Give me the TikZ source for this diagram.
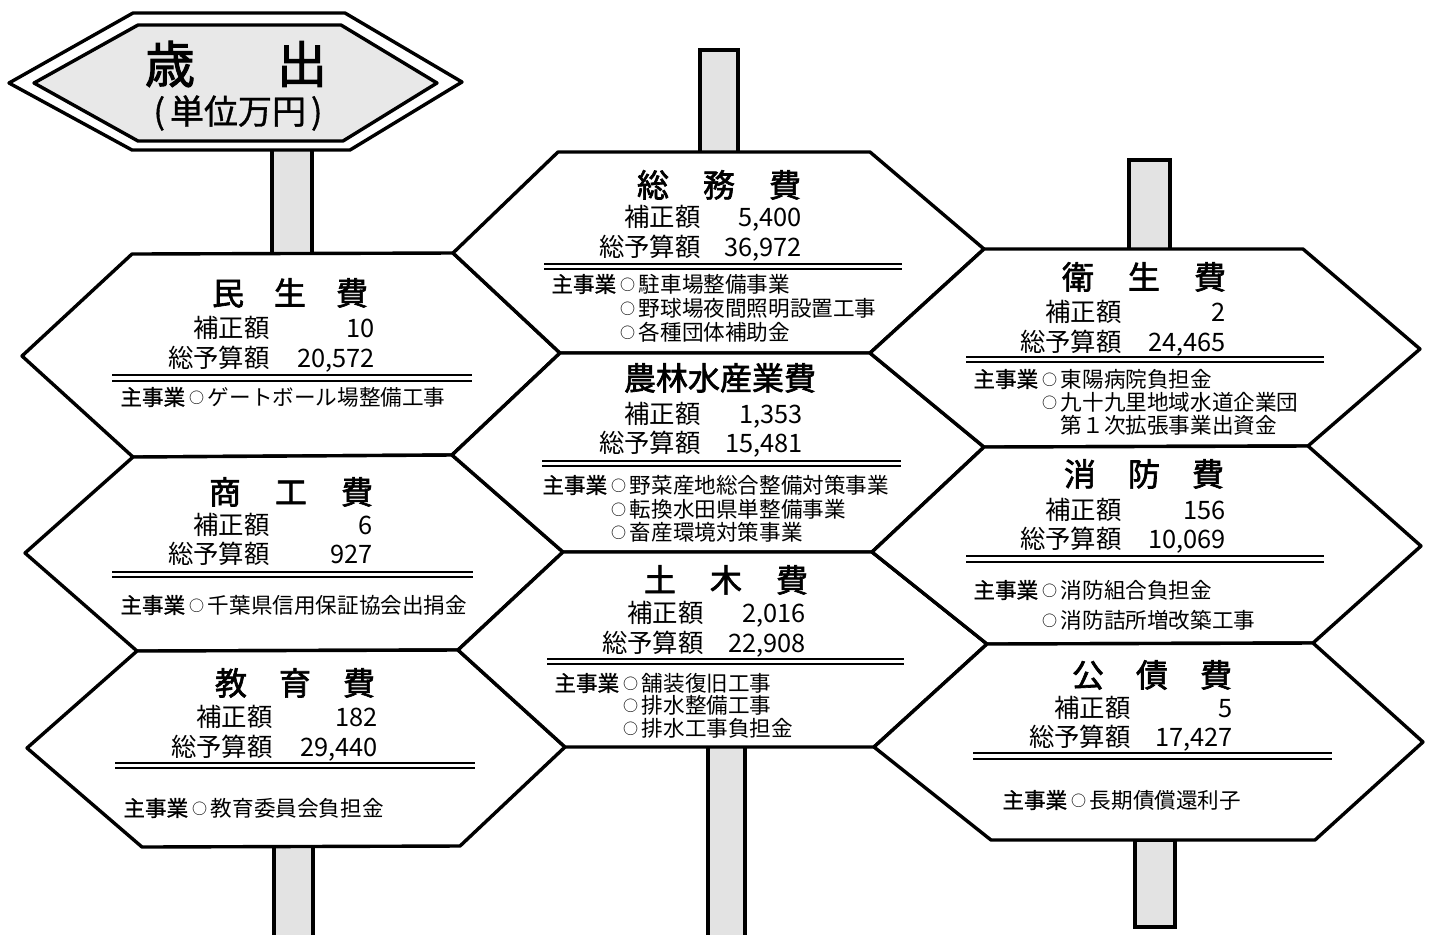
\documentclass[tikz,border=0pt]{standalone}
\usepackage{fontspec}
\newfontfamily\jp{Noto Sans CJK JP}
\newfontfamily\jpb{Noto Sans CJK JP}[FakeBold=2]
\newfontfamily\jpm{Noto Sans CJK JP}[FakeBold=1]
\newcommand\mycirc{\makebox[1.05em][c]{\raisebox{0.9pt}{\fontsize{7.5}{8}\selectfont ○}}}
\begin{document}
\begin{tikzpicture}[x=0.5pt,y=-0.5pt,
  hex/.style={draw, line width=1.7pt, fill=white, line join=round},
  post/.style={draw, line width=1.6pt, fill=gray!22},
  ttl/.style={font=\jpb\fontsize{16}{16}\selectfont, inner sep=0pt, text height=14pt, text depth=2pt},
  lab/.style={font=\jp\fontsize{12.7}{13}\selectfont, inner sep=0pt, anchor=east, text height=11.2pt, text depth=1.5pt},
  itm/.style={font=\jp\fontsize{10.8}{11}\selectfont, inner sep=0pt, anchor=west, text height=9.5pt, text depth=1.3pt},
  rule/.style={line width=0.6pt}]
\useasboundingbox (0,0) rectangle (1431,934);
\fill[white] (0,0) rectangle (1431,934);

% posts
\draw[post] (272,148) rectangle (312,256);
\draw[post] (700,50) rectangle (738,153);
\draw[post] (1129,160) rectangle (1170,250);
\draw[post] (274,846) rectangle (313,945);
\draw[post] (708,746) rectangle (745,945);
\draw[post] (1135,840) rectangle (1175,927);

% header sign
\draw[line width=1.7pt, fill=white, line join=round] (9,83) -- (133,13) -- (345,13) -- (462,82) -- (350,150) -- (132,150) -- cycle;
\draw[line width=1.7pt, fill=gray!18, line join=round] (34,83) -- (138,25) -- (341,25) -- (437,83) -- (343,141) -- (138,141) -- cycle;
\node[font=\jpb\fontsize{25}{25}\selectfont, inner sep=0pt] (sai) at (170,64) {歳};
\node[font=\jpb\fontsize{25}{25}\selectfont, inner sep=0pt] (shutsu) at (302,64) {出};
\node[font=\jpm\fontsize{17}{17}\selectfont, inner sep=0pt] (unit) at (238,113) {(\kern2.5pt 単位万円\kern2.5pt)};

% left column
\draw[hex] (132,254) -- (453,253) -- (560,353) -- (452,455) -- (133,457) -- (22,356) -- cycle;
\draw[hex] (133,457) -- (452,455) -- (563,552) -- (458,650) -- (137,651) -- (25,553) -- cycle;
\draw[hex] (137,651) -- (458,650) -- (565,747) -- (460,846) -- (142,847) -- (27,748) -- cycle;
% middle column
\draw[hex] (453,253) -- (558,152) -- (870,152) -- (984,249) -- (870,353) -- (560,353) -- cycle;
\draw[hex] (452,455) -- (560,353) -- (870,353) -- (984,447) -- (872,552) -- (563,552) -- cycle;
\draw[hex] (458,650) -- (563,552) -- (872,552) -- (987,644) -- (874,747) -- (565,747) -- cycle;
% right column
\draw[hex] (870,353) -- (984,249) -- (1303,249) -- (1420,349) -- (1308,446) -- (984,447) -- cycle;
\draw[hex] (872,552) -- (984,447) -- (1308,446) -- (1421,546) -- (1313,643) -- (987,644) -- cycle;
\draw[hex] (874,747) -- (987,644) -- (1313,643) -- (1423,742) -- (1315,840) -- (991,840) -- cycle;

% 民生費
\node[ttl] (t1) at (290,293) {民\kern15pt 生\kern15pt 費};
\node[lab] (l1a) at (270,328) {補正額};
\node[lab] (v1a) at (375,328) {10};
\node[lab] (l1b) at (270,358) {総予算額};
\node[lab] (v1b) at (375,358) {20,572};
\draw[rule] (112,375) -- (472,375) (112,381) -- (472,381);
\node[itm] (i1a) at (120,397) {{\jpm 主事業}\mycirc ゲートボール場整備工事};

% 商工費
\node[ttl] (t2) at (291,492) {商\kern17pt 工\kern17pt 費};
\node[lab] (l2a) at (270,525) {補正額};
\node[lab] (v2a) at (373,525) {6};
\node[lab] (l2b) at (270,554) {総予算額};
\node[lab] (v2b) at (373,554) {927};
\draw[rule] (112,572) -- (473,572) (112,577) -- (473,577);
\node[itm] (i2a) at (120,605) {{\jpm 主事業}\mycirc 千葉県信用保証協会出捐金};

% 教育費
\node[ttl] (t3) at (295,683) {教\kern16pt 育\kern16pt 費};
\node[lab] (l3a) at (273,717) {補正額};
\node[lab] (v3a) at (378,717) {182};
\node[lab] (l3b) at (273,747) {総予算額};
\node[lab] (v3b) at (378,747) {29,440};
\draw[rule] (115,763) -- (475,763) (115,768) -- (475,768);
\node[itm] (i3a) at (123,808) {{\jpm 主事業}\mycirc 教育委員会負担金};

% 総務費
\node[ttl] (t4) at (719,185) {総\kern17pt 務\kern17pt 費};
\node[lab] (l4a) at (701,217) {補正額};
\node[lab] (v4a) at (802,217) {5,400};
\node[lab] (l4b) at (701,247) {総予算額};
\node[lab] (v4b) at (802,247) {36,972};
\draw[rule] (544,264) -- (902,264) (544,269) -- (902,269);
\node[itm] (i4a) at (551,284) {{\jpm 主事業}\mycirc 駐車場整備事業};
\node[itm] (i4b) at (551,308) {\phantom{主事業}\mycirc 野球場夜間照明設置工事};
\node[itm] (i4c) at (551,332) {\phantom{主事業}\mycirc 各種団体補助金};

% 農林水産業費
\node[ttl] (t5) at (720,378) {農林水産業費};
\node[lab] (l5a) at (701,414) {補正額};
\node[lab] (v5a) at (803,414) {1,353};
\node[lab] (l5b) at (701,443) {総予算額};
\node[lab] (v5b) at (803,443) {15,481};
\draw[rule] (542,461) -- (901,461) (542,466) -- (901,466);
\node[itm] (i5a) at (542,485) {{\jpm 主事業}\mycirc 野菜産地総合整備対策事業};
\node[itm] (i5b) at (542,509) {\phantom{主事業}\mycirc 転換水田県単整備事業};
\node[itm] (i5c) at (542,532) {\phantom{主事業}\mycirc 畜産環境対策事業};

% 土木費
\node[ttl] (t6) at (726,580) {土\kern17pt 木\kern17pt 費};
\node[lab] (l6a) at (704,613) {補正額};
\node[lab] (v6a) at (806,613) {2,016};
\node[lab] (l6b) at (704,643) {総予算額};
\node[lab] (v6b) at (806,643) {22,908};
\draw[rule] (547,659) -- (904,659) (547,664) -- (904,664);
\node[itm] (i6a) at (554,683) {{\jpm 主事業}\mycirc 舗装復旧工事};
\node[itm] (i6b) at (554,705) {\phantom{主事業}\mycirc 排水整備工事};
\node[itm] (i6c) at (554,728) {\phantom{主事業}\mycirc 排水工事負担金};

% 衛生費
\node[ttl] (t7) at (1144,277) {衛\kern17pt 生\kern17pt 費};
\node[lab] (l7a) at (1122,312) {補正額};
\node[lab] (v7a) at (1226,312) {2};
\node[lab] (l7b) at (1122,342) {総予算額};
\node[lab] (v7b) at (1226,342) {24,465};
\draw[rule] (966,357) -- (1324,357) (966,362) -- (1324,362);
\node[itm] (i7a) at (973,379) {{\jpm 主事業}\mycirc 東陽病院負担金};
\node[itm] (i7b) at (973,402) {\phantom{主事業}\mycirc 九十九里地域水道企業団};
\node[itm] (i7c) at (973,425) {\phantom{主事業}\phantom{\mycirc}第１次拡張事業出資金};

% 消防費
\node[ttl] (t8) at (1144,474) {消\kern16pt 防\kern16pt 費};
\node[lab] (l8a) at (1122,510) {補正額};
\node[lab] (v8a) at (1226,510) {156};
\node[lab] (l8b) at (1122,539) {総予算額};
\node[lab] (v8b) at (1226,539) {10,069};
\draw[rule] (966,556) -- (1324,556) (966,562) -- (1324,562);
\node[itm] (i8a) at (973,590) {{\jpm 主事業}\mycirc 消防組合負担金};
\node[itm] (i8b) at (973,620) {\phantom{主事業}\mycirc 消防詰所増改築工事};

% 公債費
\node[ttl] (t9) at (1152,675) {公\kern16pt 債\kern16pt 費};
\node[lab] (l9a) at (1131,708) {補正額};
\node[lab] (v9a) at (1233,708) {5};
\node[lab] (l9b) at (1131,737) {総予算額};
\node[lab] (v9b) at (1233,737) {17,427};
\draw[rule] (973,753) -- (1332,753) (973,759) -- (1332,759);
\node[itm] (i9a) at (1002,800) {{\jpm 主事業}\mycirc 長期債償還利子};
\end{tikzpicture}
\end{document}
